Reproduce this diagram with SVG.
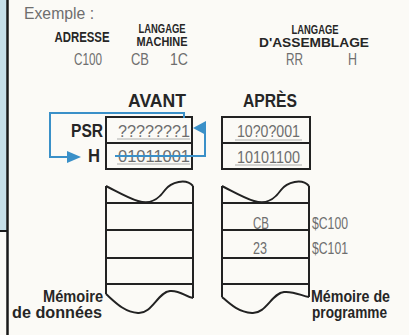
<svg xmlns="http://www.w3.org/2000/svg" width="409" height="335" viewBox="0 0 409 335">
<style>
.g{font-family:"Liberation Sans Narrow","Liberation Sans",Arial,sans-serif;fill:#6e6e6e}
.b{font-family:"Liberation Sans Narrow","Liberation Sans",Arial,sans-serif;fill:#262626;font-weight:bold}
.box{fill:none;stroke:#222;stroke-width:2}
.ln{fill:none;stroke:#222;stroke-width:2}
.ul{stroke:#9a9a9a;stroke-width:0.8}
.con{fill:none;stroke:#3a90c8;stroke-width:2}
.ah{fill:#3a90c8}
.m{text-anchor:middle}
.e{text-anchor:end}
</style>
<rect width="409" height="335" fill="#fbfaf6"/>
<g id="frame">
<rect x="0" y="0" width="7" height="231" fill="#c6dfe9"/>
<line x1="7.5" y1="0" x2="7.5" y2="335" stroke="#1a1a1a" stroke-width="2.5"/>
<line x1="0" y1="231" x2="7" y2="231" stroke="#1a1a1a" stroke-width="2"/>
</g>
<g id="header">
<text class="g" x="24" y="19" style="font-size:16px" textLength="70" lengthAdjust="spacingAndGlyphs">Exemple :</text>
<text class="b m" x="82" y="42" style="font-size:14px" textLength="55" lengthAdjust="spacingAndGlyphs">ADRESSE</text>
<text class="b m" x="162" y="32.5" style="font-size:12px" textLength="47" lengthAdjust="spacingAndGlyphs">LANGAGE</text>
<text class="b m" x="162" y="46" style="font-size:12px" textLength="51" lengthAdjust="spacingAndGlyphs">MACHINE</text>
<text class="b m" x="315" y="33.5" style="font-size:12px" textLength="47" lengthAdjust="spacingAndGlyphs">LANGAGE</text>
<text class="b m" x="314" y="47" style="font-size:12px" textLength="110" lengthAdjust="spacingAndGlyphs">D'ASSEMBLAGE</text>
<text class="g" x="74" y="65" style="font-size:17px" textLength="28" lengthAdjust="spacingAndGlyphs">C100</text>
<text class="g" x="131" y="65" style="font-size:17px" textLength="18" lengthAdjust="spacingAndGlyphs">CB</text>
<text class="g" x="170" y="65" style="font-size:17px" textLength="18" lengthAdjust="spacingAndGlyphs">1C</text>
<text class="g" x="286" y="65" style="font-size:17px" textLength="17" lengthAdjust="spacingAndGlyphs">RR</text>
<text class="g" x="348" y="65" style="font-size:17px" textLength="9" lengthAdjust="spacingAndGlyphs">H</text>
</g>
<g id="avant">
<text class="b m" x="157" y="107" style="font-size:19px" textLength="58" lengthAdjust="spacingAndGlyphs">AVANT</text>
<text class="b e" x="103" y="137" style="font-size:19px" textLength="32" lengthAdjust="spacingAndGlyphs">PSR</text>
<text class="b e" x="100" y="162" style="font-size:19px" textLength="12" lengthAdjust="spacingAndGlyphs">H</text>
<rect class="box" x="106" y="117" width="86" height="52"/>
<line class="ln" x1="106" y1="143" x2="192" y2="143"/>
<text class="g" x="118" y="137" style="font-size:17px" textLength="72" lengthAdjust="spacingAndGlyphs">???????1</text>
<line class="ul" x1="117" y1="139" x2="190" y2="139"/>
<text class="g" x="118" y="162" style="font-size:17px" textLength="72" lengthAdjust="spacingAndGlyphs">01011001</text>
<line class="ul" x1="117" y1="164" x2="190" y2="164"/>
</g>
<g id="apres">
<text class="b m" x="270" y="107" style="font-size:19px" textLength="54" lengthAdjust="spacingAndGlyphs">APRÈS</text>
<rect class="box" x="222" y="117" width="88" height="52"/>
<line class="ln" x1="222" y1="143" x2="310" y2="143"/>
<text class="g" x="237" y="137" style="font-size:17px" textLength="63" lengthAdjust="spacingAndGlyphs">10?0?001</text>
<line class="ul" x1="235" y1="140" x2="302" y2="140"/>
<text class="g" x="237" y="163" style="font-size:17px" textLength="63" lengthAdjust="spacingAndGlyphs">10101100</text>
<line class="ul" x1="235" y1="165" x2="302" y2="165"/>
</g>
<g id="memoire-donnees">
<path class="ln" d="M106,186 C118,192 128,198 138,201 C150,205 158,200 165,190 C171,182 186,178 193,186"/>
<path class="ln" d="M106,186 V294 M193,186 V298"/>
<path class="ln" d="M106,203 H193 M106,230 H193 M106,258 H193 M106,284 H193"/>
<path class="ln" d="M106,294 C115,302 124,312 138,313 C152,314 158,292 170,291 C180,290 186,297 193,298"/>
<text class="b e" x="103" y="302" style="font-size:16px" textLength="60" lengthAdjust="spacingAndGlyphs">Mémoire</text>
<text class="b e" x="102" y="318" style="font-size:16px" textLength="90" lengthAdjust="spacingAndGlyphs">de données</text>
</g>
<g id="memoire-programme">
<path class="ln" d="M222,186 C234,192 244,198 254,201 C266,205 274,200 281,190 C287,182 302,178 309,186"/>
<path class="ln" d="M222,186 V297 M309,186 V297"/>
<path class="ln" d="M222,203 H309 M222,230 H309 M222,258 H309 M222,284 H309"/>
<path class="ln" d="M222,297 C230,304 238,312 252,313 C266,314 272,293 284,292 C294,291 302,296 309,297"/>
<text class="g m" x="261" y="229" style="font-size:17px" textLength="16" lengthAdjust="spacingAndGlyphs">CB</text>
<text class="g m" x="260" y="254" style="font-size:17px" textLength="14" lengthAdjust="spacingAndGlyphs">23</text>
<text class="g" x="312" y="229" style="font-size:17px" textLength="36" lengthAdjust="spacingAndGlyphs">$C100</text>
<text class="g" x="312" y="254" style="font-size:17px" textLength="36" lengthAdjust="spacingAndGlyphs">$C101</text>
<text class="b" x="311" y="302" style="font-size:16px" textLength="79" lengthAdjust="spacingAndGlyphs">Mémoire de</text>
<text class="b" x="312" y="318" style="font-size:16px" textLength="75" lengthAdjust="spacingAndGlyphs">programme</text>
</g>
<g id="connectors">
<path class="con" d="M184,118 V113 H50 V157 H70"/>
<polygon class="ah" points="67,151 81,157 67,163"/>
<path class="con" d="M115,156 H205 V129"/>
<polygon class="ah" points="206,121 193,128 206,135"/>
</g>
</svg>
